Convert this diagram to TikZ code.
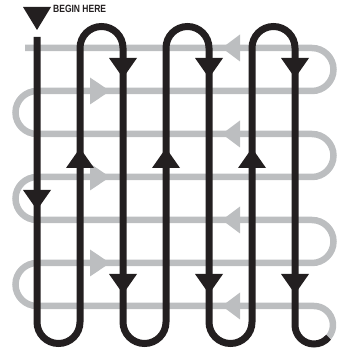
\documentclass[tikz,border=0pt]{standalone}
\usepackage{graphicx}
\usepackage{xcolor}
\usepackage{fontspec}
\usepackage{tikz}
\usetikzlibrary{positioning}
\newfontfamily\labelfont{Liberation Sans}
\definecolor{ink}{RGB}{35,31,32}
\definecolor{fog}{RGB}{188,190,192}

\begin{document}
\begin{tikzpicture}[
    x=1pt, y=1pt,
    blackrun/.style={draw=ink, line width=7pt, line cap=butt},
    grayrun/.style={draw=fog, line width=6.5pt, line cap=butt},
    downhead/.pic={\fill[ink] (-14,0) -- (14,0) -- (0,-20) -- cycle;},
    uphead/.pic={\fill[ink] (-14,0) -- (14,0) -- (0,20) -- cycle;},
    righthead/.pic={\fill[fog] (0,-13.5) -- (0,13.5) -- (20,0) -- cycle;},
    lefthead/.pic={\fill[fog] (0,-13.5) -- (0,13.5) -- (-18,0) -- cycle;},
    startlabel/.style={anchor=base west, inner sep=0pt, font=\labelfont\bfseries\fontsize{10.5}{12}\selectfont, text=ink}
]
\useasboundingbox (0,0) rectangle (344,354);

% second pass (gray), from the bottom right up to the top left
\coordinate (loopc) at (314,29);
\draw[grayrun] (loopc) ++(-40:19) arc[start angle=-40, end angle=90, radius=19]
    \foreach \k in {0,1,2} {
        -- (37,{48+86*\k}) arc[start angle=270, end angle=90, radius=21.5]
        -- (312,{91+86*\k}) arc[start angle=-90, end angle=90, radius=21.5]
    } -- (25,306);
\foreach \k in {0,1,2} \pic at (90,{91+86*\k}) {righthead};
\foreach \k in {0,1,2,3} \pic at (240,{48+86*\k}) {lefthead};

% first pass (black)
\coordinate (begin) at (37,317);
\draw[blackrun] (begin)
    \foreach \k in {0,1,2} {
        -- ({37+86*\k},32) arc[start angle=180, end angle=360, radius=21.5]
        -- ({80+86*\k},306) arc[start angle=180, end angle=0, radius=21.5]
    } -- (295,29) arc[start angle=180, end angle=320, radius=19];

\pic at (37,164) {downhead};
\foreach \x in {123,209,295} {
    \pic at (\x,296) {downhead};
    \pic at (\x,80) {downhead};
}
\foreach \x in {80,166,252} \pic at (\x,186) {uphead};

% start marker
\fill[ink] (23,347) -- (51,347) -- (37,324) -- cycle;
\node[startlabel] (beginlabel) at (53,341.3) {\scalebox{0.81}[1]{BEGIN HERE}};

\end{tikzpicture}
\end{document}
